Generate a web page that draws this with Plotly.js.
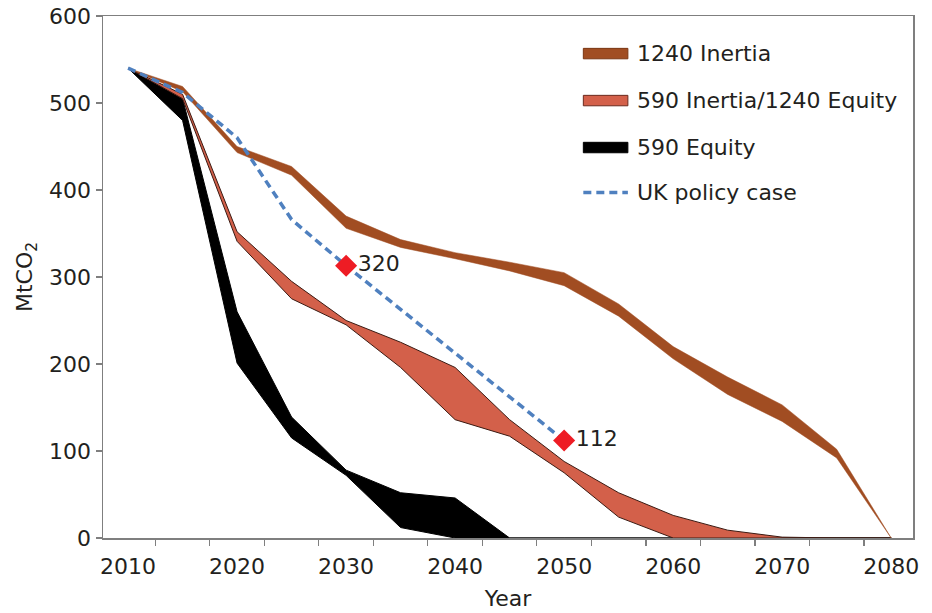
<!DOCTYPE html>
<html>
<head>
<meta charset="utf-8">
<script src="https://cdn.plot.ly/plotly-3.0.1.min.js"></script>
<style>html,body{margin:0;padding:0;background:#fff;}#chart{width:932px;height:613px;}</style>
</head>
<body>
<div id="chart"></div>
<script>
// ---- data ----
var years = [2010, 2015, 2020, 2025, 2030, 2035, 2040, 2045, 2050, 2055, 2060, 2065, 2070, 2075, 2080];

var inertia1240Upper = [540, 519, 450, 427, 370, 343, 328, 317, 305, 269, 220, 185, 153, 102, 0];
var inertia1240Lower = [540, 513, 443, 417, 356, 334, 321, 307, 290, 255, 206, 165, 134, 92, 0];

var inertia590Upper = [540, 510, 352, 295, 250, 225, 196, 136, 88, 52, 26, 9, 1, 0, 0];
var inertia590Lower = [540, 505, 341, 275, 245, 196, 136, 117, 75, 24, 0, 0, 0, 0, 0];

var equity590Upper = [540, 505, 260, 139, 78, 52, 46, 0, 0, 0, 0, 0, 0, 0, 0];
var equity590Lower = [540, 480, 201, 115, 72, 12, 0, 0, 0, 0, 0, 0, 0, 0, 0];

var ukYears = [2010, 2015, 2020, 2025, 2030, 2035, 2040, 2045, 2050];
var ukValues = [540, 512, 460, 366, 313, 263, 212, 162, 112];

var markerYears = [2030, 2050];
var markerValues = [313, 112];
var markerLabels = ["320", "112"];

var seriesNames = ["1240 Inertia", "590 Inertia/1240 Equity", "590 Equity", "UK policy case"];
var xTickVals = [2010, 2020, 2030, 2040, 2050, 2060, 2070, 2080];
var yTickVals = [0, 100, 200, 300, 400, 500, 600];

// ---- styles ----
var cBrown = "#a14d22";
var cCoral = "#d3604a";
var cBlack = "#000000";
var cBlue = "#4f80bf";
var cRed = "#ee1c24";
var FONT = "DejaVu Sans, sans-serif";
var FS = 22;
var TXT = "#231f20";

function band(upper, lower, name, fill, lineColor, lineWidth) {
  var xs = years.concat(years.slice().reverse());
  var ys = upper.concat(lower.slice().reverse());
  return {
    type: "scatter", mode: "lines", name: name,
    x: xs, y: ys, fill: "toself", fillcolor: fill,
    line: {color: lineColor, width: lineWidth},
    hoverinfo: "skip", showlegend: false
  };
}

var traces = [
  band(equity590Upper, equity590Lower, seriesNames[2], cBlack, cBlack, 1),
  band(inertia590Upper, inertia590Lower, seriesNames[1], cCoral, "#3b1a12", 1),
  band(inertia1240Upper, inertia1240Lower, seriesNames[0], cBrown, cBrown, 0.5),
  {
    type: "scatter", mode: "lines", name: seriesNames[3],
    x: ukYears, y: ukValues,
    line: {color: cBlue, width: 3.5, dash: "8px,5px"}, showlegend: false
  },
  {
    type: "scatter", mode: "markers+text", name: "points",
    x: markerYears, y: markerValues, text: markerLabels,
    textposition: "middle right",
    textfont: {family: FONT, size: FS, color: TXT},
    marker: {symbol: "diamond", size: 17, color: cRed},
    showlegend: false, cliponaxis: false
  }
];

// manual legend
var legColors = [cBrown, cCoral, cBlack];
var legBorders = ["#7a3512", "#6b2a1e", cBlack];
var shapes = [];
var annotations = [];
var rowY = [0.928, 0.838, 0.748, 0.662];
for (var i = 0; i < 4; i++) {
  if (i < 3) {
    shapes.push({type: "rect", xref: "paper", yref: "paper",
      x0: 0.593, x1: 0.648, y0: rowY[i] - 0.01, y1: rowY[i] + 0.01,
      fillcolor: legColors[i], line: {color: legBorders[i], width: 1}});
  } else {
    shapes.push({type: "line", xref: "paper", yref: "paper",
      x0: 0.593, x1: 0.648, y0: rowY[i], y1: rowY[i],
      line: {color: cBlue, width: 3.5, dash: "8px,5px"}});
  }
  annotations.push({xref: "paper", yref: "paper", x: 0.657, y: rowY[i],
    xanchor: "left", yanchor: "middle", showarrow: false,
    text: seriesNames[i], font: {family: FONT, size: FS, color: TXT}});
}

var layout = {
  width: 932, height: 613,
  margin: {l: 103, r: 19, t: 16, b: 75},
  paper_bgcolor: "#fff", plot_bgcolor: "#fff",
  showlegend: false,
  font: {family: FONT, size: FS, color: TXT},
  xaxis: {
    range: [2007.7, 2082.0],
    tickmode: "array", tickvals: xTickVals,
    ticks: "outside", ticklen: 8, tickcolor: "rgba(0,0,0,0)",
    tickfont: {family: FONT, size: FS, color: TXT},
    showgrid: false, zeroline: false,
    showline: true, linecolor: "#7f7f7f", linewidth: 1.5, mirror: true,
    minor: {ticks: "outside", ticklen: 6, tick0: 2012.5, dtick: 5, tickcolor: "#7f7f7f", tickwidth: 1.2, showgrid: false},
    title: {text: "Year", font: {family: FONT, size: FS, color: TXT}, standoff: 12}
  },
  yaxis: {
    range: [0, 600],
    tickmode: "array", tickvals: yTickVals,
    ticks: "outside", ticklen: 6, tickcolor: "#7f7f7f", tickwidth: 1.2,
    tickfont: {family: FONT, size: FS, color: TXT},
    showgrid: false, zeroline: false,
    showline: true, linecolor: "#7f7f7f", linewidth: 1.5, mirror: true,
    title: {text: "MtCO<sub>2</sub>", font: {family: FONT, size: FS, color: TXT}, standoff: 10}
  },
  shapes: shapes,
  annotations: annotations
};

Plotly.newPlot("chart", traces, layout, {displayModeBar: false, staticPlot: true});
</script>
</body>
</html>
